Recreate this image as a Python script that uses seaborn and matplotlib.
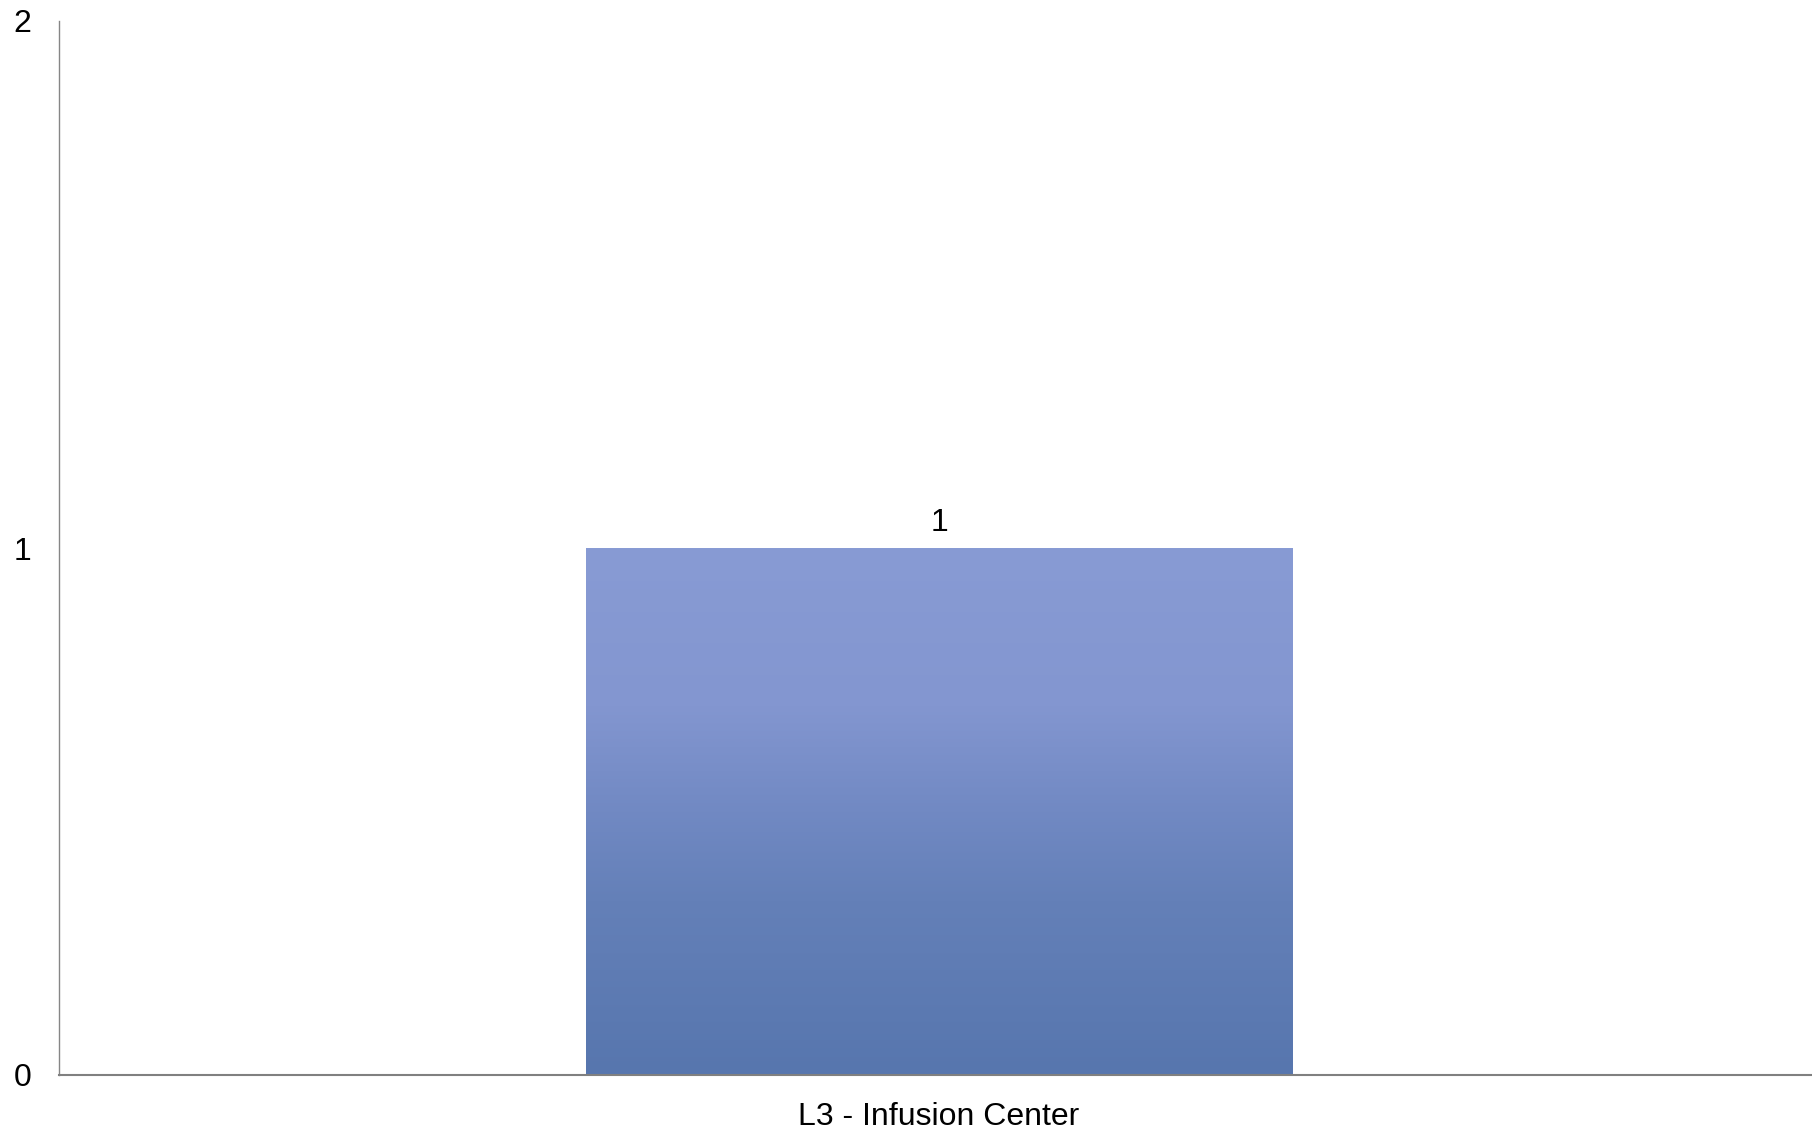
import numpy as np
import pandas as pd
import matplotlib
matplotlib.use("Agg")
import matplotlib.pyplot as plt
from matplotlib.colors import LinearSegmentedColormap
import seaborn as sns

categories = ["L3 - Infusion Center"]
values = [1]
y_ticks = [0, 1, 2]

# gradient stops (0 = top, 1 = bottom)
grad_pos = [0.0, 0.3, 0.5, 0.67, 1.0]
grad_col = ["#889bd4", "#8396d0", "#7189c3", "#6480b8", "#5776ae"]

sns.set_theme(style="white")
plt.rcParams["font.family"] = ["Liberation Sans", "DejaVu Sans"]

df = pd.DataFrame({"cat": categories, "val": values})

fig = plt.figure(figsize=(18.12, 11.30), dpi=100)
ax = fig.add_axes([59 / 1812, 1 - 1075 / 1130, 1 - 59 / 1812, (1075 - 21) / 1130])

sns.barplot(data=df, x="cat", y="val", color=grad_col[-1], width=0.403, ax=ax)

cmap = LinearSegmentedColormap.from_list("bar", list(zip(grad_pos, grad_col)))
grad = np.linspace(0, 1, 256).reshape(-1, 1)
for p in ax.patches:
    x0, y0 = p.get_x(), p.get_y()
    w, h = p.get_width(), p.get_height()
    im = ax.imshow(grad, cmap=cmap, aspect="auto", extent=[x0, x0 + w, y0, y0 + h],
                   origin="upper", zorder=p.get_zorder() + 0.1)
    im.set_clip_path(p)
    p.set_edgecolor("none")
ax.set_xlim(-0.502, 0.498)
ax.set_ylim(0, 2)
ax.set_yticks(y_ticks)

ax.bar_label(ax.containers[0], labels=[str(v) for v in values], padding=7, fontsize=23, color="black")

ax.set_xlabel("")
ax.set_ylabel("")
ax.tick_params(axis="both", length=0, labelsize=23, colors="black")
ax.tick_params(axis="y", pad=20)
ax.tick_params(axis="x", pad=19.5)

for s in ["top", "right"]:
    ax.spines[s].set_visible(False)
ax.spines["left"].set_color("#868686")
ax.spines["bottom"].set_color("#808080")
ax.spines["left"].set_linewidth(1.0)
ax.spines["bottom"].set_linewidth(1.5)

fig.savefig("out.png", dpi=100, facecolor="white")
